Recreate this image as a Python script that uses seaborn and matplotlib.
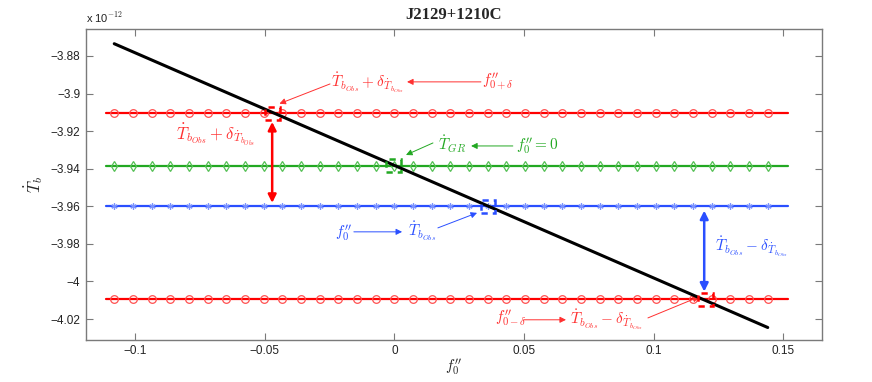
import numpy as np
import pandas as pd
import matplotlib
matplotlib.use("Agg")
import matplotlib.pyplot as plt
import seaborn as sns
from matplotlib.patches import Rectangle

# ---- data (T-dot values in units of 1e-12) ----
f0_markers = [-0.108, -0.1008, -0.0936, -0.0864, -0.0792, -0.072, -0.0648, -0.0576,
              -0.0504, -0.0432, -0.036, -0.0288, -0.0216, -0.0144, -0.0072, 0.0,
              0.0072, 0.0144, 0.0216, 0.0288, 0.036, 0.0432, 0.0504, 0.0576,
              0.0648, 0.072, 0.0792, 0.0864, 0.0936, 0.1008, 0.108, 0.1152,
              0.1224, 0.1296, 0.1368, 0.144]
f0_line_ends = [-0.111, 0.152]
tb_obs_plus = -3.9105
tb_gr = -3.9385
tb_obs = -3.960
tb_obs_minus = -4.0096
model_f0 = [-0.108, 0.144]
model_tb = [-3.8735, -4.0245]
# intersections (f0'', Tb) marked with dashed boxes
cross_f0 = [-0.0470, -0.0003, 0.0361, 0.1200]
cross_tb = [tb_obs_plus, tb_gr, tb_obs, tb_obs_minus]

sns.set_theme(style="white")
plt.rcParams["font.family"] = ["Liberation Sans", "DejaVu Sans"]
plt.rcParams["mathtext.fontset"] = "cm"

RED = "#ff0000"
RED_M = "#ff5050"
RED_T = "#ff3030"
GRN = "#22a822"
GRN_M = "#55c055"
BLU = "#2a4fff"
BLU_M = "#7b93ff"

fig = plt.figure(figsize=(8.72, 3.82), dpi=100)
ax = fig.add_axes([0.0986, 0.1107, 0.8437, 0.8142])

levels = [(tb_obs_plus, RED, RED_M, "o", 5.5), (tb_gr, GRN, GRN_M, "d", 5.5),
          (tb_obs, BLU, BLU_M, (6, 2, 0), 4.5), (tb_obs_minus, RED, RED_M, "o", 5.5)]
for val, lc, mc, mk, ms in levels:
    df_line = pd.DataFrame({"f": f0_line_ends, "t": [val] * len(f0_line_ends)})
    sns.lineplot(data=df_line, x="f", y="t", ax=ax, color=lc, lw=1.6, zorder=2)
    df_m = pd.DataFrame({"f": f0_markers, "t": [val] * len(f0_markers)})
    ax.plot(df_m["f"], df_m["t"], linestyle="none", marker=mk, ms=ms,
            mfc="none", mec=mc, mew=0.9, zorder=3)

df_model = pd.DataFrame({"f": model_f0, "t": model_tb})
sns.lineplot(data=df_model, x="f", y="t", ax=ax, color="black", lw=2.2, zorder=4)

box_cols = [RED, GRN, BLU, RED]
bw, bh = 0.0056, 0.0068
for cf, ct, bc in zip(cross_f0, cross_tb, box_cols):
    ax.add_patch(Rectangle((cf - bw / 2, ct - bh / 2), bw, bh, fill=False,
                           ec=bc, lw=1.8, ls=(0, (2.5, 2)), zorder=5))

ax.set_xlim(-0.1189, 0.1648)
ax.set_ylim(-4.031, -3.8655)
ax.set_xticks([-0.1, -0.05, 0, 0.05, 0.1, 0.15])
ax.set_xticklabels(["\u22120.1", "\u22120.05", "0", "0.05", "0.1", "0.15"])
yt = [-4.02, -4.0, -3.98, -3.96, -3.94, -3.92, -3.9, -3.88]
ax.set_yticks(yt)
ax.set_yticklabels(["\u22124.02", "\u22124", "\u22123.98", "\u22123.96", "\u22123.94",
                    "\u22123.92", "\u22123.9", "\u22123.88"])
ax.tick_params(direction="in", length=5, width=0.8, colors="#7a7a7a",
               labelcolor="#222222", labelsize=8.5, top=True, right=True,
               bottom=True, left=True, pad=4)
for s in ax.spines.values():
    s.set_color("#7a7a7a")
    s.set_linewidth(1.0)

ax.set_xlabel(r"$f_0''$", fontsize=11, labelpad=0)
ax.set_ylabel(r"$\dot{T}_b$", fontsize=12, labelpad=4)
ax.set_title("J2129+1210C", fontsize=12, fontweight="bold",
             family=["Liberation Serif", "DejaVu Serif"], pad=7)
fig.text(0.0986, 0.935, r"x 10$^{-12}$", fontsize=8, color="#222222", va="bottom")

txt_obs_p = r"$\dot{T}_{b_{Obs}}+\delta_{\dot{T}_{b_{Obs}}}$"
txt_obs_m = r"$\dot{T}_{b_{Obs}}-\delta_{\dot{T}_{b_{Obs}}}$"
thin = dict(arrowstyle="-|>", lw=0.7, mutation_scale=9, shrinkA=0, shrinkB=0)

# top red annotations
ax.annotate("", xy=(-0.0443, -3.9054), xytext=(-0.0248, -3.8949),
            arrowprops=dict(thin, color=RED_T))
ax.text(-0.0103, -3.8944, txt_obs_p, color=RED_T, fontsize=11, ha="center", va="center")
ax.annotate("", xy=(0.0049, -3.8938), xytext=(0.0334, -3.8938),
            arrowprops=dict(thin, color=RED_T))
ax.text(0.0338, -3.8938, r"$f_{0+\delta}''$", color=RED_T, fontsize=11, ha="left", va="center")

# red double arrow and label
ax.annotate("", xy=(-0.0471, -3.9151), xytext=(-0.0471, -3.9582),
            arrowprops=dict(arrowstyle="<|-|>", lw=1.8, color=RED, mutation_scale=12,
                            shrinkA=0, shrinkB=0))
ax.text(-0.0691, -3.922, txt_obs_p, color=RED_T, fontsize=12, ha="center", va="center")

# green annotations
ax.annotate("", xy=(0.0045, -3.9327), xytext=(0.0149, -3.9263),
            arrowprops=dict(thin, color=GRN))
ax.text(0.0222, -3.9273, r"$\dot{T}_{GR}$", color=GRN, fontsize=11, ha="center", va="center")
ax.annotate("", xy=(0.0296, -3.9279), xytext=(0.0457, -3.9279),
            arrowprops=dict(thin, color=GRN))
ax.text(0.0469, -3.9279, r"$f_0''=0$", color=GRN, fontsize=11, ha="left", va="center")

# blue annotations
ax.text(-0.0194, -3.9741, r"$f_0''$", color=BLU, fontsize=11, ha="center", va="center")
ax.annotate("", xy=(0.0030, -3.9736), xytext=(-0.0156, -3.9736),
            arrowprops=dict(thin, color=BLU))
ax.text(0.0107, -3.9736, r"$\dot{T}_{b_{Obs}}$", color=BLU, fontsize=11, ha="center", va="center")
ax.annotate("", xy=(0.0319, -3.9635), xytext=(0.0168, -3.9715),
            arrowprops=dict(thin, color=BLU))
ax.annotate("", xy=(0.1195, -3.9623), xytext=(0.1195, -4.0054),
            arrowprops=dict(arrowstyle="<|-|>", lw=1.8, color=BLU, mutation_scale=12,
                            shrinkA=0, shrinkB=0))
ax.text(0.1377, -3.9816, txt_obs_m, color=BLU, fontsize=11, ha="center", va="center")

# bottom red annotations
ax.text(0.0450, -4.0194, r"$f_{0-\delta}''$", color=RED_T, fontsize=11, ha="center", va="center")
ax.annotate("", xy=(0.0662, -4.0204), xytext=(0.0500, -4.0204),
            arrowprops=dict(thin, color=RED_T))
ax.text(0.0816, -4.0204, txt_obs_m, color=RED_T, fontsize=11, ha="center", va="center")
ax.annotate("", xy=(0.1175, -4.0082), xytext=(0.0978, -4.0194),
            arrowprops=dict(thin, color=RED_T))

fig.savefig("out.png", dpi=100)
